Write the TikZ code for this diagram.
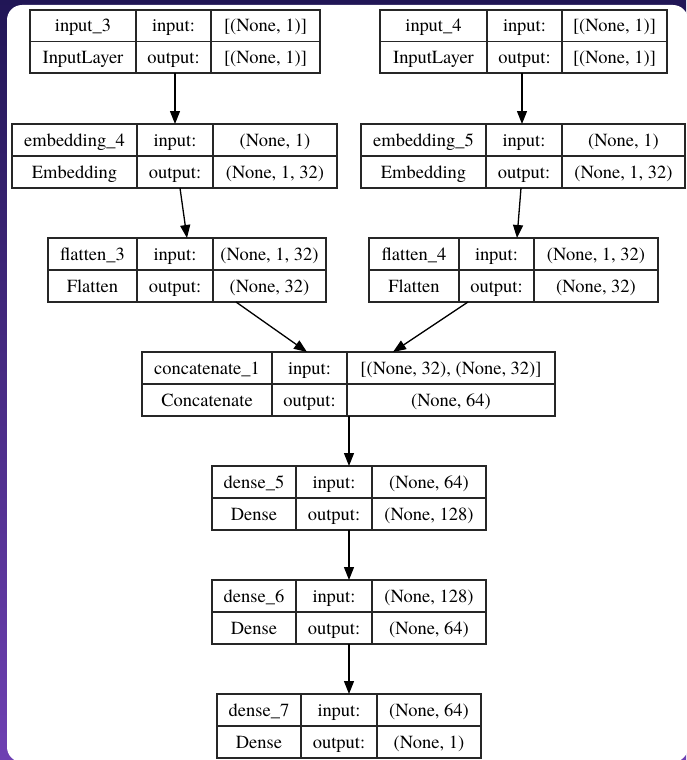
\documentclass[tikz,border=0pt]{standalone}
\usepackage{fontspec}
\newfontfamily\cellfont{TeX Gyre Termes}
\usetikzlibrary{calc,arrows.meta}
\definecolor{bgtop}{HTML}{211656}
\definecolor{bgmid}{HTML}{36208A}
\definecolor{bgbot}{HTML}{6E40B2}
\tikzset{
  layerframe/.style={draw=black!85, line width=1.1pt, inner sep=0pt, outer sep=0pt, anchor=north west},
  cellline/.style={draw=black!85, line width=1.1pt},
  celltext/.style={anchor=base, inner sep=0pt, font=\cellfont\fontsize{18.5}{22}\selectfont},
  arr/.style={draw=black, line width=1.3pt, -{Triangle[length=13pt,width=10pt]}},
}
\newcommand\layerbox[7]{%
  \pgfmathsetmacro\lbw{#5-#2}%
  \pgfmathsetmacro\lbh{#7-#6}%
  \pgfmathsetmacro\lbym{(#6+#7)/2}%
  \node[layerframe, minimum width=\lbw pt, minimum height=\lbh pt] (#1) at (#2,#6) {};
  \draw[cellline] (#3,#6) -- (#3,#7) (#4,#6) -- (#4,#7) (#2,\lbym) -- (#5,\lbym);
  \coordinate (#1-1) at ({(#2+#3)/2},{(#6+\lbym)/2+6});
  \coordinate (#1-2) at ({(#3+#4)/2},{(#6+\lbym)/2+6});
  \coordinate (#1-3) at ({(#4+#5)/2},{(#6+\lbym)/2+6});
  \coordinate (#1-4) at ({(#2+#3)/2},{(\lbym+#7)/2+6});
  \coordinate (#1-5) at ({(#3+#4)/2},{(\lbym+#7)/2+6});
  \coordinate (#1-6) at ({(#4+#5)/2},{(\lbym+#7)/2+6});
}
\newcommand\layertext[7]{%
  \node[celltext] (#1-t1) at (#1-1) {#2};
  \node[celltext] (#1-t2) at (#1-2) {#3};
  \node[celltext] (#1-t3) at (#1-3) {#4};
  \node[celltext] (#1-t4) at (#1-4) {#5};
  \node[celltext] (#1-t5) at (#1-5) {#6};
  \node[celltext] (#1-t6) at (#1-6) {#7};
}
\begin{document}
\begin{tikzpicture}[x=1pt,y=-1pt]
\useasboundingbox (0,0) rectangle (686,760);
\shade[top color=bgtop, middle color=bgmid, bottom color=bgbot] (0,0) rectangle (686,760);
\fill[white, rounded corners=15pt] (7,5) rectangle (688,762);

\layerbox{input3}{30}{136}{211}{320}{10}{73}
\layertext{input3}{input\_3}{input:}{[(None, 1)]}{InputLayer}{output:}{[(None, 1)]}
\layerbox{input4}{380}{487}{562}{667}{10}{73}
\layertext{input4}{input\_4}{input:}{[(None, 1)]}{InputLayer}{output:}{[(None, 1)]}
\layerbox{emb4}{12}{137}{213}{337}{124}{188}
\layertext{emb4}{embedding\_4}{input:}{(None, 1)}{Embedding}{output:}{(None, 1, 32)}
\layerbox{emb5}{361}{486}{562}{685}{124}{188}
\layertext{emb5}{embedding\_5}{input:}{(None, 1)}{Embedding}{output:}{(None, 1, 32)}
\layerbox{flat3}{48}{137}{213}{326}{238}{302}
\layertext{flat3}{flatten\_3}{input:}{(None, 1, 32)}{Flatten}{output:}{(None, 32)}
\layerbox{flat4}{369}{459}{534}{658}{238}{302}
\layertext{flat4}{flatten\_4}{input:}{(None, 1, 32)}{Flatten}{output:}{(None, 32)}
\layerbox{concat}{142}{272}{347}{555}{352}{416}
\layertext{concat}{concatenate\_1}{input:}{[(None, 32), (None, 32)]}{Concatenate}{output:}{(None, 64)}
\layerbox{dense5}{212}{296}{372}{486}{466}{530}
\layertext{dense5}{dense\_5}{input:}{(None, 64)}{Dense}{output:}{(None, 128)}
\layerbox{dense6}{212}{296}{372}{486}{580}{644}
\layertext{dense6}{dense\_6}{input:}{(None, 128)}{Dense}{output:}{(None, 64)}
\layerbox{dense7}{217}{301}{377}{481}{694}{758}
\layertext{dense7}{dense\_7}{input:}{(None, 64)}{Dense}{output:}{(None, 1)}

\draw[arr] ($(input3.south west)+(145,0)$) -- ($(emb4.north west)+(163,0)$);
\draw[arr] ($(input4.south west)+(142,0)$) -- ($(emb5.north west)+(161,0)$);
\draw[arr] ($(emb4.south west)+(168,0)$) -- ($(flat3.north west)+(139,0)$);
\draw[arr] ($(emb5.south west)+(160,0)$) -- ($(flat4.north west)+(148,0)$);
\draw[arr] ($(flat3.south west)+(188,0)$) -- ($(concat.north west)+(165,0)$);
\draw[arr] ($(flat4.south west)+(99,0)$) -- ($(concat.north west)+(251,0)$);
\draw[arr] ($(concat.south west)+(207,0)$) -- ($(dense5.north west)+(137,0)$);
\draw[arr] ($(dense5.south west)+(137,0)$) -- ($(dense6.north west)+(137,0)$);
\draw[arr] ($(dense6.south west)+(137,0)$) -- ($(dense7.north west)+(132,0)$);
\end{tikzpicture}
\end{document}
